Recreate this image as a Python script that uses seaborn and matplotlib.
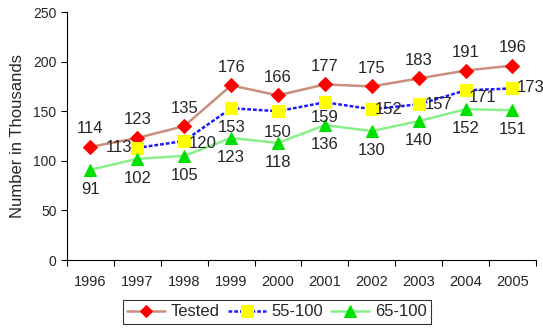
import numpy as np
import pandas as pd
import matplotlib
matplotlib.use("Agg")
import matplotlib.pyplot as plt
import seaborn as sns

years = ["1996", "1997", "1998", "1999", "2000", "2001", "2002", "2003", "2004", "2005"]
tested = [114, 123, 135, 176, 166, 177, 175, 183, 191, 196]
age_55_100 = [np.nan, 113, 120, 153, 150, 159, 152, 157, 171, 173]
age_65_100 = [91, 102, 105, 123, 118, 136, 130, 140, 152, 151]

# label offsets in points (dx, dy) per point
off_55 = [None, (-13, 0), (13, -2), (0, -14), (0, -15), (0, -11), (12, 0), (14, 0), (12, -5), (13, 1)]

sns.set_style("ticks")
plt.rcParams["font.family"] = ["Liberation Sans", "DejaVu Sans"]

fig = plt.figure(figsize=(5.43, 3.29), dpi=100)
ax = fig.add_axes([0.1234, 0.2097, 0.8636, 0.7538])

x = np.arange(len(years))
df = pd.DataFrame({"x": x, "Tested": tested, "55-100": age_55_100, "65-100": age_65_100})

sns.lineplot(data=df, x="x", y="Tested", ax=ax, color="#c8907c", lw=1.8,
             marker="D", markersize=7, markerfacecolor="red", markeredgecolor="red",
             label="Tested")
sns.lineplot(data=df.dropna(), x="x", y="55-100", ax=ax, color="#1a1aff", lw=1.8,
             linestyle=(0, (1.5, 0.8)), marker="s", markersize=9, markerfacecolor="#ffff00",
             markeredgecolor="#ffff00", label="55-100")
sns.lineplot(data=df, x="x", y="65-100", ax=ax, color="#88f088", lw=1.8,
             marker="^", markersize=9, markerfacecolor="#00e000", markeredgecolor="#00e000",
             label="65-100")

for i, v in enumerate(tested):
    ax.annotate(str(v), (x[i], v), xytext=(0, 13), textcoords="offset points",
                ha="center", va="center", fontsize=12)
for i, v in enumerate(age_55_100):
    if off_55[i] is None:
        continue
    ax.annotate(str(int(v)), (x[i], v), xytext=off_55[i], textcoords="offset points",
                ha="center", va="center", fontsize=12)
for i, v in enumerate(age_65_100):
    ax.annotate(str(v), (x[i], v), xytext=(0, -14), textcoords="offset points",
                ha="center", va="center", fontsize=12)

ax.set_xlim(-0.5, len(years) - 0.5)
ax.set_ylim(0, 250)
ax.set_yticks(range(0, 251, 50))
ax.set_xticks(x)
ax.set_xticklabels(years, fontsize=10.5)
ax.set_xticks(np.arange(-0.5, len(years), 1), minor=True)
ax.tick_params(axis="x", which="major", length=0, pad=11)
ax.tick_params(axis="x", which="minor", length=4, width=0.8, color="black")
ax.tick_params(axis="y", labelsize=10, length=4, width=0.8, color="black")
ax.set_xlabel("")
ax.set_ylabel("Number in Thousands", fontsize=12, labelpad=6)
for s in ["left", "bottom"]:
    ax.spines[s].set_color("black")
    ax.spines[s].set_linewidth(0.8)
sns.despine(ax=ax)

handles, labels = ax.get_legend_handles_labels()
ax.get_legend().remove()
leg = fig.legend(handles, labels, loc="center", bbox_to_anchor=(0.51, 0.052), ncol=3,
                 fontsize=12, frameon=True, fancybox=False, edgecolor="black",
                 handlelength=2.3, handletextpad=0.35, columnspacing=0.45,
                 borderpad=0.25, markerscale=0.9)
leg.get_frame().set_linewidth(0.8)

fig.savefig("out.png", dpi=100)
